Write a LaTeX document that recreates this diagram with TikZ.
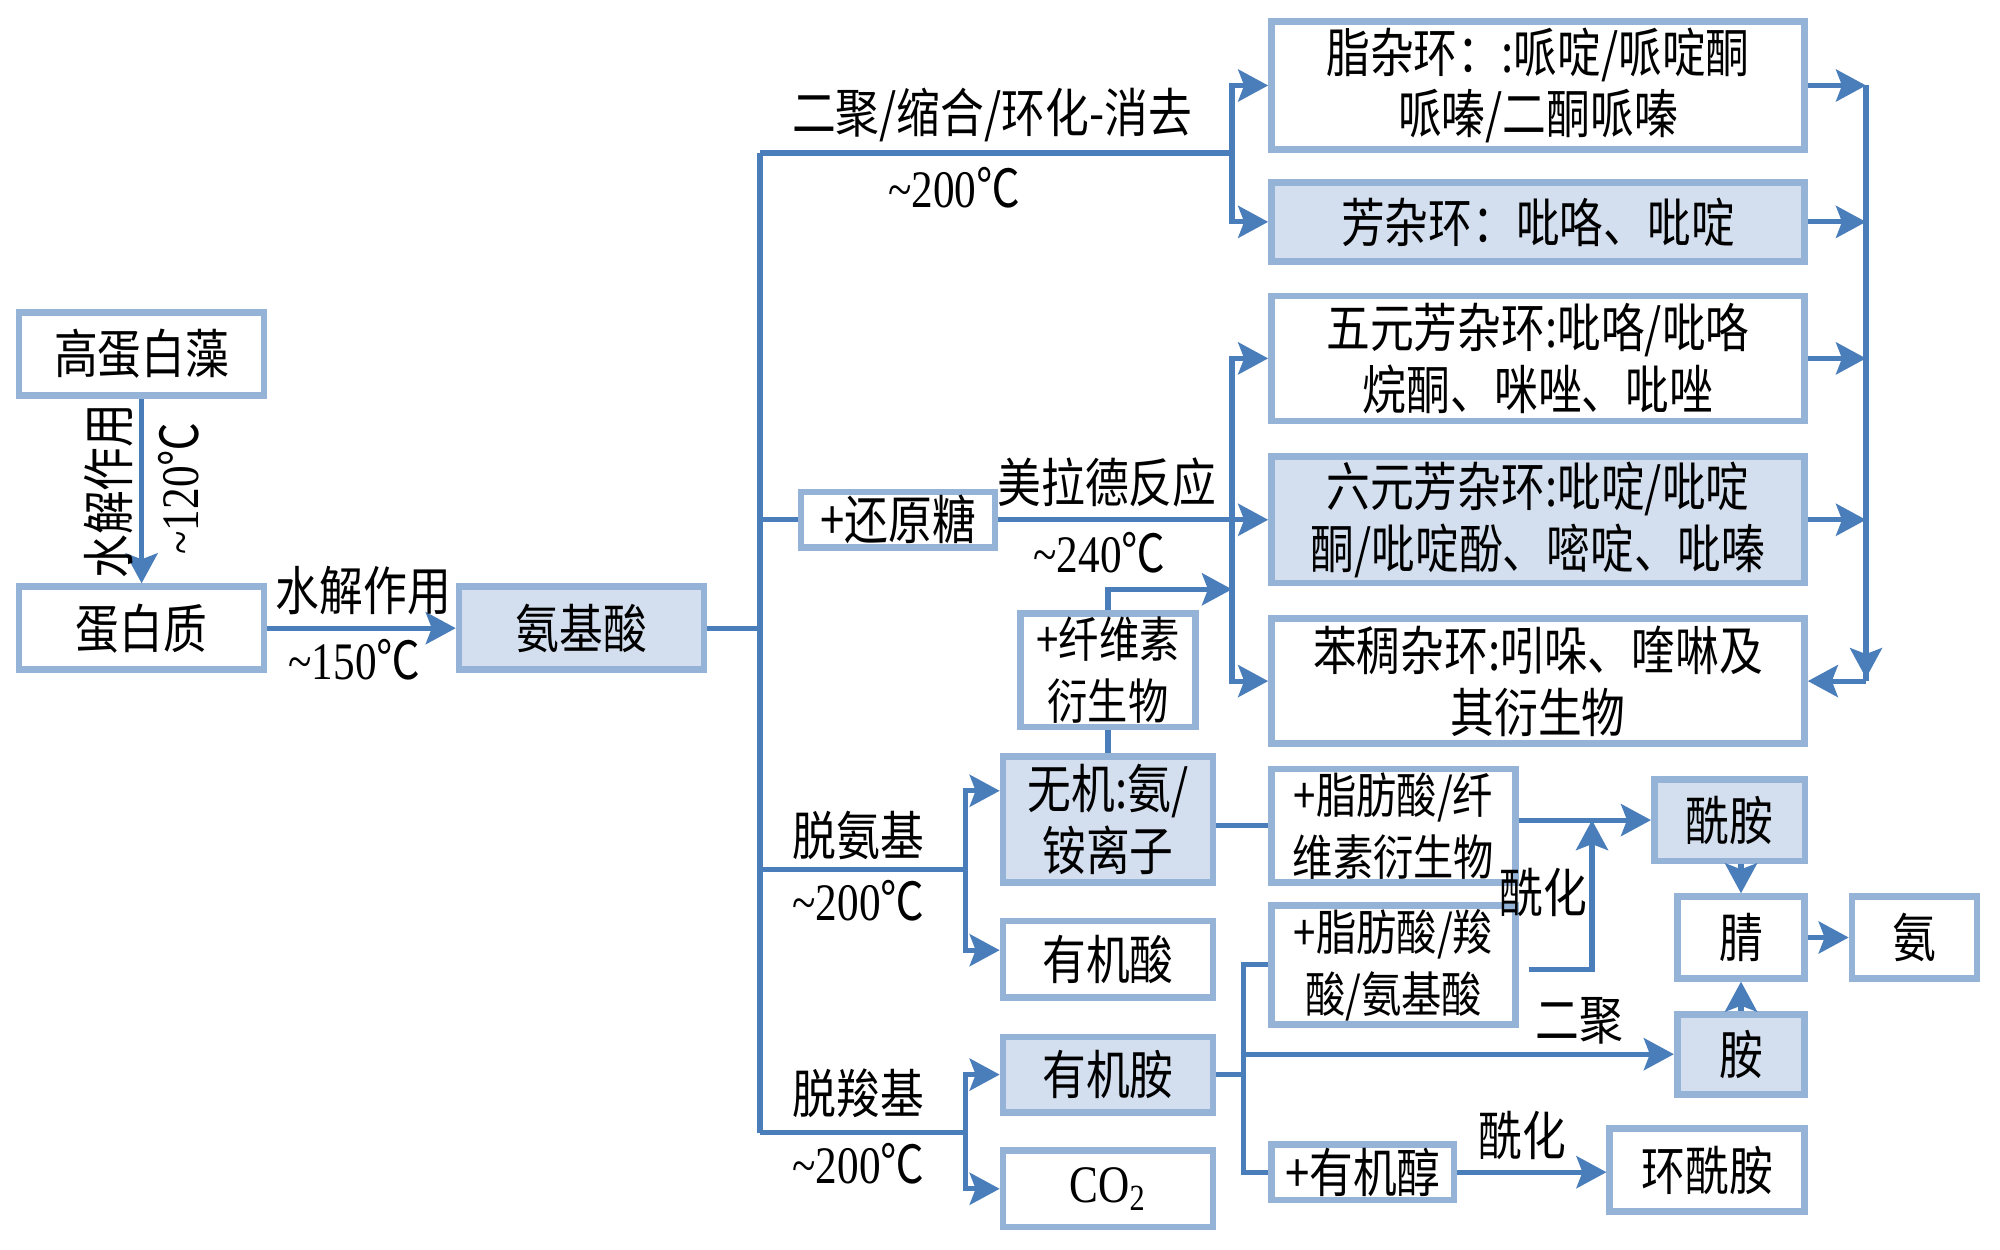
\documentclass[tikz,border=0pt]{standalone}
\usepackage{fontspec}
\setmainfont{Noto Sans CJK SC}[FakeStretch=0.83]
\newfontfamily\latfont{Liberation Serif}[FakeStretch=0.82]
\usepackage{tikz}
\usetikzlibrary{arrows.meta,positioning,calc}
\definecolor{linkblue}{RGB}{74,126,187}
\definecolor{edgeblue}{RGB}{149,179,215}
\definecolor{fillblue}{RGB}{211,223,238}
\newcommand{\temp}[1]{{\latfont\textasciitilde#1}℃}

\begin{document}
\begin{tikzpicture}[
  font=\fontsize{15pt}{17.6pt}\selectfont,
  box/.style={draw=edgeblue, line width=1.9pt, fill=white, align=center, inner xsep=1pt, inner ysep=1pt, minimum width=2.45cm, minimum height=0.83cm},
  hbox/.style={box, fill=fillblue},
  small/.style={font=\fontsize{13.8pt}{17.6pt}\selectfont},
  link/.style={draw=linkblue, line width=1.45pt},
  flow/.style={link, -{Stealth[length=0.3cm, width=0.32cm, inset=0.06cm]}},
  note/.style={inner sep=1pt}
]
\useasboundingbox (0,0) rectangle (20,12.5);

% left part
\node[box] (alga) at (1.416,8.96) {高蛋白藻};
\node[box] (protein) at (1.416,6.218) {蛋白质};
\node[hbox] (amino) at (5.816,6.218) {氨基酸};
\draw[flow] (alga.south) -- (protein.north);
\node[note, rotate=90] (hyd1) at (1.084,7.589) {水解作用};
\node[note, rotate=90] (t120) at (1.786,7.615) {\temp{120}};
\draw[flow] (protein.east) -- (amino.west);
\node[note] (hyd2) at (3.635,6.594) {水解作用};
\node[note] (t150) at (3.546,5.906) {\temp{150}};

% trunk
\coordinate (tTop) at (7.60,10.97);
\coordinate (tBot) at (7.60,1.174);
\draw[link] (tTop) -- (tBot);
\draw[link] (amino.east) -- (amino.east -| tTop);

% heterocycles
\node[box, minimum width=5.33cm, minimum height=1.276cm] (het1) at (15.38,11.645) {脂杂环：:哌啶/哌啶酮\\哌嗪/二酮哌嗪};
\node[hbox, minimum width=5.33cm, minimum height=0.79cm] (het2) at (15.38,10.281) {芳杂环：吡咯、吡啶};
\node[box, minimum width=5.33cm, minimum height=1.25cm] (het3) at (15.38,8.916) {五元芳杂环:吡咯/吡咯\\烷酮、咪唑、吡唑};
\node[hbox, minimum width=5.33cm, minimum height=1.263cm] (het4) at (15.38,7.302) {六元芳杂环:吡啶/吡啶\\酮/吡啶酚、嘧啶、吡嗪};
\node[box, minimum width=5.33cm, minimum height=1.25cm] (het5) at (15.38,5.689) {苯稠杂环:吲哚、喹啉及\\其衍生物};

\coordinate (jA) at (12.32,10.97);
\draw[link] (tTop) -- (jA);
\draw[flow] (jA) |- (het1.west);
\draw[flow] (jA) |- (het2.west);
\node[note] (condense) at (9.92,11.35) {二聚/缩合/环化-消去};
\node[note] (t200a) at (9.54,10.625) {\temp{200}};

\node[box, minimum width=1.94cm, minimum height=0.55cm] (sugar) at (8.98,7.302) {+还原糖};
\draw[link] (sugar.west -| tTop) -- (sugar.west);
\draw[flow] (sugar.east) -- (het4.west);
\coordinate (jB) at (12.32,7.302);
\draw[flow] (jB) |- (het3.west);
\draw[flow] (jB) |- (het5.west);
\node[note] (maillard) at (11.07,7.68) {美拉德反应};
\node[note] (t240) at (10.995,6.977) {\temp{240}};

\coordinate (rTop) at (18.66,11.645);
\coordinate (rBot) at (18.66,5.689);
\draw[link] (rTop) -- (rBot);
\foreach \h in {het1,het2,het3,het4}
  \draw[flow] (\h.east) -- (\h.east -| rTop);
\draw[flow] (rTop) -- ([yshift=0.03cm]rBot);
\draw[flow] (rBot) -- (het5.east);

% deamination
\node[hbox, minimum width=2.10cm, minimum height=1.263cm] (inorg) at (11.08,4.305) {无机:氨/\\铵离子};
\node[box, minimum width=2.10cm, minimum height=0.765cm] (acid) at (11.08,2.908) {有机酸};
\node[box, small, minimum width=1.75cm, minimum height=0.957cm] (cell) at (11.08,5.797) {+纤维素\\衍生物};
\coordinate (jC) at (12.32,6.607);
\draw[link] (inorg.north) -- (cell.south);
\draw[flow] (cell.north) |- (jC);

\coordinate (jD) at (7.60,3.801);
\coordinate (kD) at (9.656,3.801);
\draw[link] (jD) -- (kD);
\draw[flow] (kD) |- ([yshift=0.287cm]inorg.west);
\draw[flow] (kD) |- ([yshift=0.09cm]acid.west);
\node[note] (deam) at (8.584,4.146) {脱氨基};
\node[note] (t200b) at (8.584,3.495) {\temp{200}};

% decarboxylation
\node[hbox, minimum width=2.10cm, minimum height=0.753cm] (amine) at (11.08,1.754) {有机胺};
\node[box, minimum width=2.10cm, minimum height=0.765cm] (co2) at (11.08,0.612) {\latfont CO\textsubscript{2}};
\coordinate (kE) at (9.656,1.174);
\draw[link] (tBot) -- (kE);
\draw[flow] (kE) |- (amine.west);
\draw[flow] (kE) |- (co2.west);
\node[note] (decarb) at (8.584,1.569) {脱羧基};
\node[note] (t200c) at (8.584,0.867) {\temp{200}};

% amides and nitriles
\node[box, small, minimum width=2.436cm, minimum height=0.982cm] (fat1) at (13.935,4.241) {+脂肪酸/纤\\维素衍生物};
\node[box, small, minimum width=2.436cm, minimum height=0.982cm] (fat2) at (13.935,2.851) {+脂肪酸/羧\\酸/氨基酸};
\node[box, minimum width=1.824cm, minimum height=0.536cm] (alcohol) at (13.629,0.778) {+有机醇};
\node[hbox, minimum width=1.505cm, minimum height=0.816cm] (amide) at (17.296,4.299) {酰胺};
\node[box, minimum width=1.276cm, minimum height=0.816cm] (nitrile) at (17.41,3.125) {腈};
\node[hbox, minimum width=1.276cm, minimum height=0.80cm] (amine2) at (17.41,1.958) {胺};
\node[box, minimum width=1.25cm, minimum height=0.816cm] (nh3) at (19.145,3.125) {氨};
\node[box, minimum width=1.95cm, minimum height=0.83cm] (cyclo) at (17.073,0.797) {环酰胺};

\draw[link] (fat1.west -| inorg.east) -- (fat1.west);
\draw[flow] (amide.west -| fat1.east) -- (amide.west);
\coordinate (jF) at (15.92,4.299);
\draw[flow] ([xshift=0.1cm, yshift=-0.045cm]fat2.east) -| (jF);
\node[note] (acyl1) at (15.43,3.571) {酰化};
\draw[flow] (nitrile.north |- amide.south) -- (nitrile.north);
\draw[flow] (amine2.north) -- (nitrile.south);
\draw[flow] (nitrile.east) -- (nh3.west);

\coordinate (gBot) at (12.436,0.778);
\draw[link] (amine.east) -- (amine.east -| gBot);
\draw[link] (fat2.west) -| (gBot) -- (alcohol.west);
\draw[flow] (amine2.west -| gBot) -- (amine2.west);
\node[note] (dimer) at (15.79,2.296) {二聚};
\draw[flow] (alcohol.east) -- (alcohol.east -| cyclo.west);
\node[note] (acyl2) at (15.22,1.148) {酰化};
\end{tikzpicture}
\end{document}
